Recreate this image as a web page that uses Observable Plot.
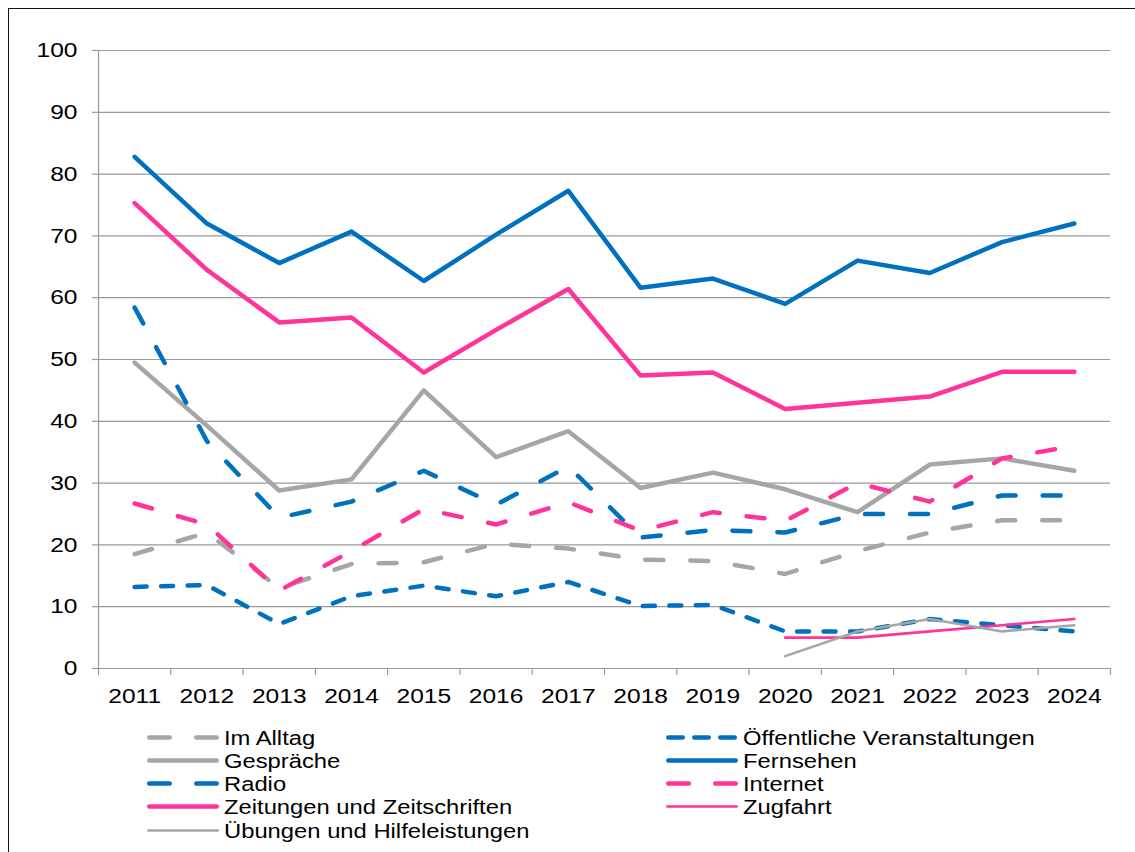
<!DOCTYPE html>
<html>
<head>
<meta charset="utf-8">
<script src="https://cdn.jsdelivr.net/npm/d3@7"></script>
<script src="https://cdn.jsdelivr.net/npm/@observablehq/plot@0.6"></script>
<style>
html,body{margin:0;padding:0;background:#fff;overflow:hidden;font-family:"Liberation Sans",Arial,sans-serif;}
#wrap{position:relative;width:1135px;height:852px;}
#frame{position:absolute;left:8px;top:8px;width:1200px;height:900px;border-left:1.6px solid #111;border-top:1.6px solid #111;pointer-events:none;z-index:5;}
#legend{position:absolute;left:0;top:0;width:1135px;height:852px;pointer-events:none;}
.item{position:absolute;height:23px;display:flex;align-items:center;}
.item svg{display:block;flex:none;}
.item span{display:inline-block;margin-left:5px;font-size:20.5px;line-height:23px;transform:scaleX(1.16);transform-origin:0 50%;white-space:nowrap;color:#000;}
</style>
</head>
<body>
<div id="wrap"><div id="chart"></div><div id="legend"></div><div id="frame"></div></div>
<script>
// ---- data ----
const years = [2011, 2012, 2013, 2014, 2015, 2016, 2017, 2018, 2019, 2020, 2021, 2022, 2023, 2024];
const yTicks = [0, 10, 20, 30, 40, 50, 60, 70, 80, 90, 100];

const seriesNames = ["Im Alltag", "Öffentliche Veranstaltungen", "Gespräche", "Fernsehen", "Radio", "Internet", "Zeitungen und Zeitschriften", "Zugfahrt", "Übungen und Hilfeleistungen"];

const imAlltag     = [18.5, 22, 13, 16.9, 17.2, 20.2, 19.4, 17.6, 17.4, 15.3, 19, 22, 24, 24];
const oeffentliche = [13.2, 13.5, 7.2, 11.7, 13.4, 11.7, 14, 10.1, 10.3, 6, 6, 8, 7, 6];
const gespraeche   = [49.5, 39.3, 28.8, 30.6, 45, 34.2, 38.4, 29.2, 31.7, 29, 25.3, 33, 34, 32];
const fernsehen    = [82.8, 72, 65.6, 70.7, 62.7, 70.2, 77.3, 61.6, 63.1, 59, 66, 64, 69, 72];
const radio        = [58.4, 36.8, 24.4, 27, 32, 26.5, 32.7, 21.2, 22.4, 22, 25, 25, 28, 28];
const internet     = [26.7, 23.3, 12.6, 19, 25.8, 23.3, 26.9, 22.3, 25.3, 23.9, 30, 27, 34, 36];
const zeitungen    = [75.3, 64.5, 56, 56.8, 47.9, 54.8, 61.4, 47.4, 47.9, 42, 43, 44, 48, 48];
const zugfahrt     = [null, null, null, null, null, null, null, null, null, 5, 5, 6, 7, 8];
const uebungen     = [null, null, null, null, null, null, null, null, null, 2, 6, 8, 6, 7];

const seriesValues = [imAlltag, oeffentliche, gespraeche, fernsehen, radio, internet, zeitungen, zugfahrt, uebungen];

// ---- styles ----
const BLUE = "#0070C0", PINK = "#FF3399", GRAY = "#A6A6A6", AXIS = "#9a9a9a";
const LONG = "18,27", SHORT = "12,14.5";
const styles = [
  {stroke: GRAY, w: 4.5, dash: LONG,  legendDash: "20.5,26.5"},
  {stroke: BLUE, w: 4.5, dash: SHORT, legendDash: "14.5,11.5"},
  {stroke: GRAY, w: 4.5, dash: null},
  {stroke: BLUE, w: 4.5, dash: null},
  {stroke: BLUE, w: 4.5, dash: LONG,  legendDash: "20.5,26.5"},
  {stroke: PINK, w: 4.5, dash: LONG,  legendDash: "20.5,26.5"},
  {stroke: PINK, w: 4.5, dash: null},
  {stroke: PINK, w: 2.6, dash: null},
  {stroke: GRAY, w: 2.6, dash: null}
];

const rows = seriesNames.map((name, i) => years.map((yr, j) => ({series: name, year: yr, value: seriesValues[i][j]})));
const boundaries = years.map(y => y - 0.5).concat([years[years.length - 1] + 0.5]);

const FONT = '"Liberation Sans", Arial, sans-serif';
const SX = 1.17;

const lineMarks = rows.map((data, i) => Plot.line(data, {
  x: "year", y: "value",
  stroke: styles[i].stroke,
  strokeWidth: styles[i].w,
  strokeDasharray: styles[i].dash || undefined,
  strokeLinecap: "round", strokeLinejoin: "round"
}));

const chart = Plot.plot({
  width: 1135, height: 712,
  marginLeft: 98, marginRight: 25, marginTop: 50, marginBottom: 44,
  style: {fontFamily: FONT, fontSize: "21px", background: "transparent", overflow: "visible", color: "#000"},
  x: {type: "linear", domain: [boundaries[0], boundaries[boundaries.length - 1]], label: null},
  y: {type: "linear", domain: [0, 100], label: null},
  marks: [
    Plot.gridY(yTicks, {stroke: AXIS, strokeOpacity: 1, strokeWidth: 1.2}),
    Plot.ruleX([boundaries[0]], {stroke: AXIS, strokeWidth: 1.2}),
    Plot.ruleY([0], {stroke: AXIS, strokeWidth: 1.2}),
    Plot.axisY(yTicks, {tickSize: 6, tickPadding: 15, stroke: AXIS, strokeWidth: 1.2, label: null, fontSize: 21, fill: "#000"}),
    Plot.axisX(years, {tickSize: 0, tickPadding: 20, label: null, tickFormat: d => String(d), fontSize: 21, fill: "#000"}),
    Plot.axisX(boundaries, {tickSize: 7, tickPadding: 0, stroke: AXIS, strokeWidth: 1.2, label: null, tickFormat: () => ""}),
    ...lineMarks
  ]
});
document.getElementById("chart").appendChild(chart);

// horizontal stretch of text glyphs around each label's own anchor (wrap in <g>)
chart.querySelectorAll("text").forEach(t => {
  if (!t.textContent) return;
  const bb = t.getBBox();
  const anchor = (t.getAttribute("text-anchor") || getComputedStyle(t).textAnchor || "start");
  let ax = bb.x;
  if (anchor === "end") ax = bb.x + bb.width;
  else if (anchor === "middle") ax = bb.x + bb.width / 2;
  const ay = bb.y + bb.height / 2;
  let px = ax, py = ay;
  const tl = t.transform && t.transform.baseVal;
  if (tl && tl.numberOfItems) {
    const m = tl.consolidate().matrix;
    px = m.a * ax + m.c * ay + m.e;
    py = m.b * ax + m.d * ay + m.f;
  }
  const g = document.createElementNS("http://www.w3.org/2000/svg", "g");
  g.setAttribute("transform", `translate(${px},${py}) scale(${SX},1) translate(${-px},${-py})`);
  t.parentNode.insertBefore(g, t);
  g.appendChild(t);
});

// ---- legend (two columns, row-wise order) ----
const legend = document.getElementById("legend");
const colX = [147, 666];
const rowTop0 = 725.5, rowStep = 23.3;
seriesNames.forEach((name, i) => {
  const s = styles[i];
  const item = document.createElement("div");
  item.className = "item";
  item.style.left = colX[i % 2] + "px";
  item.style.top = (rowTop0 + Math.floor(i / 2) * rowStep) + "px";
  const sw = d3.create("svg").attr("width", 72).attr("height", 23);
  sw.append("line")
    .attr("x1", s.w / 2).attr("x2", 72 - s.w / 2).attr("y1", 11.5).attr("y2", 11.5)
    .attr("stroke", s.stroke).attr("stroke-width", s.w).attr("stroke-linecap", "round")
    .attr("stroke-dasharray", s.dash ? s.legendDash : null);
  item.appendChild(sw.node());
  const label = document.createElement("span");
  label.textContent = name;
  item.appendChild(label);
  legend.appendChild(item);
});
</script>
</body>
</html>
